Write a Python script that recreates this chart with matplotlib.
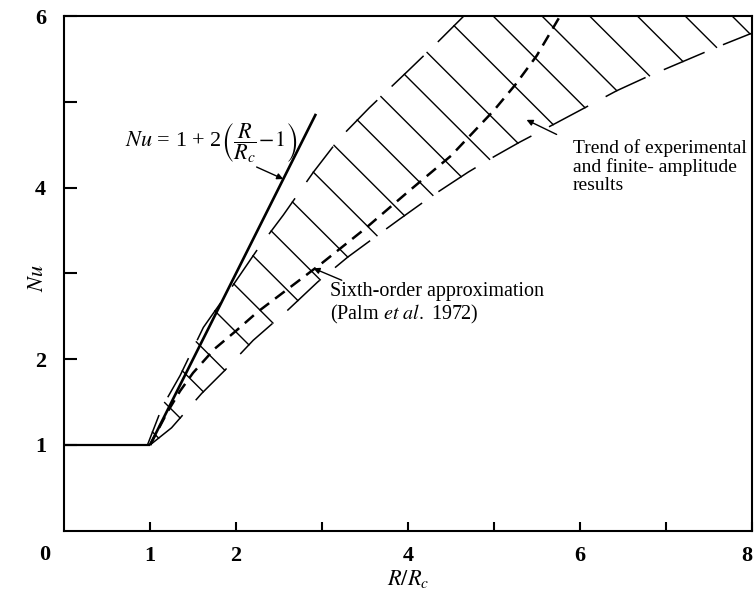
import numpy as np
import matplotlib.pyplot as plt
from matplotlib.transforms import ScaledTranslation

plt.rcParams['font.family'] = ['Liberation Serif', 'DejaVu Serif']
plt.rcParams['mathtext.fontset'] = 'stix'

# conduction regime, Nu = 1 below onset
cond_x = [0.0, 1.0]
cond_y = [1.0, 1.0]

# linear result Nu = 1 + 2(R/Rc - 1)
lin_x = np.array([1.0, 2.93])
lin_y = 1 + 2 * (lin_x - 1)

# sixth-order approximation (Palm et al. 1972)
six_x = [1.0, 1.2, 1.35, 1.5, 1.75, 2.0, 2.25, 2.5, 2.75, 3.0, 3.5, 4.0, 4.5, 5.0, 5.25, 5.5, 5.77]
six_y = [1.0, 1.38, 1.63, 1.84, 2.12, 2.33, 2.55, 2.74, 2.93, 3.12, 3.52, 3.95, 4.37, 4.9, 5.2, 5.54, 6.0]

# band of experimental / finite-amplitude results
band_lo_x = [1.0, 1.25, 1.6, 1.87, 2.2, 2.6, 2.95, 3.3, 3.64, 3.9, 4.29, 4.7, 5.0, 5.3, 5.7, 6.0, 6.43, 6.8, 7.2, 7.6, 8.0, 8.5]
band_lo_y = [1.0, 1.2, 1.6, 1.87, 2.22, 2.57, 2.9, 3.19, 3.44, 3.63, 3.91, 4.18, 4.36, 4.53, 4.74, 4.9, 5.13, 5.3, 5.47, 5.64, 5.8, 6.0]
band_up_x = [0.97, 1.14, 1.35, 1.62, 1.95, 2.25, 2.55, 2.9, 3.2, 3.55, 4.0, 4.3, 4.6, 5.2]
band_up_y = [1.0, 1.44, 1.81, 2.37, 2.84, 3.28, 3.68, 4.18, 4.57, 4.93, 5.36, 5.65, 5.95, 6.55]
hatch_x = [1.1, 1.35, 1.62, 1.87, 2.15, 2.43, 2.72, 2.98, 3.3, 3.64, 3.96, 4.29, 4.62, 4.95,
           5.28, 5.69, 6.06, 6.43, 6.81, 7.2, 7.59, 7.98]

fig = plt.figure(figsize=(7.54, 5.95), dpi=100)
ax = fig.add_axes([0.085, 0.108, 0.912, 0.865])

ax.plot(cond_x, cond_y, color='k', lw=1.6, solid_capstyle='butt')
ax.plot(lin_x, lin_y, color='k', lw=1.9, solid_capstyle='butt')
ax.plot(six_x, six_y, color='k', lw=1.8, dashes=(4.8, 3.0))

# band edges, drawn broken
ax.plot(band_lo_x, band_lo_y, color='k', lw=1.1, linestyle=(0, (29, 13)))
ax.plot(band_up_x, band_up_y, color='k', lw=1.1, linestyle=(8, (29, 13)))

# cross hatching at -45 deg from the lower edge to the upper edge
s = np.linspace(0, 3, 3001)
for xl in hatch_x:
    yl = np.interp(xl, band_lo_x, band_lo_y)
    gap = yl + s - np.interp(xl - s, band_up_x, band_up_y)
    k = np.argmax(gap >= 0)
    ax.plot([xl, xl - s[k]], [yl, yl + s[k]], color='k', lw=1.0)

ax.set_xlim(0, 8)
ax.set_ylim(0, 6)
ax.set_xticks(range(1, 9))
ax.set_xticklabels(['1', '2', '', '4', '', '6', '', '8'])
ax.set_yticks(range(1, 7))
ax.set_yticklabels(['1', '2', '', '4', '', '6'])
ax.tick_params(axis='x', direction='in', length=6.5, width=1.5, pad=11, labelsize=16)
ax.tick_params(axis='y', direction='in', length=9, width=1.5, pad=13, labelsize=16)
for lab in ax.get_xticklabels() + ax.get_yticklabels():
    lab.set_fontweight('bold')
# keep the last x label inside the figure edge
last = ax.get_xticklabels()[-1]
last.set_transform(last.get_transform() + ScaledTranslation(-5 / 100, 0, fig.dpi_scale_trans))
for sp in ax.spines.values():
    sp.set_linewidth(1.5)
ax.text(-0.22, -0.28, '0', ha='center', va='center', fontsize=16, fontweight='bold', clip_on=False)

ax.set_xlabel(r'$R/R_c$', fontsize=16)
ax.xaxis.set_label_coords(0.5, -0.072)
ax.set_ylabel(r'$Nu$', fontsize=16)
ax.yaxis.set_label_coords(-0.024, 0.49)

arrow = dict(arrowstyle='-|>', color='k', lw=1.0, mutation_scale=9, shrinkA=0, shrinkB=0)
ax.annotate('', xy=(2.55, 4.10), xytext=(2.24, 4.24), arrowprops=arrow)
ax.text(0.71, 4.52, r'$Nu$ = 1 + 2$\left(\dfrac{R}{R_c}\!-\!1\right)$', fontsize=16,
        ha='left', va='center')

ax.annotate('', xy=(2.90, 3.06), xytext=(3.23, 2.92), arrowprops=arrow)
ax.text(3.09, 2.90, 'Sixth-order approximation\n(Palm $et\\ al.$ 1972)', fontsize=14.5,
        ha='left', va='top', linespacing=1.15)

ax.annotate('', xy=(5.38, 4.79), xytext=(5.73, 4.62), arrowprops=arrow)
ax.text(5.92, 4.57, 'Trend of experimental\nand finite- amplitude\nresults', fontsize=14,
        ha='left', va='top', linespacing=1.1)

fig.savefig('out.png', dpi=100)
